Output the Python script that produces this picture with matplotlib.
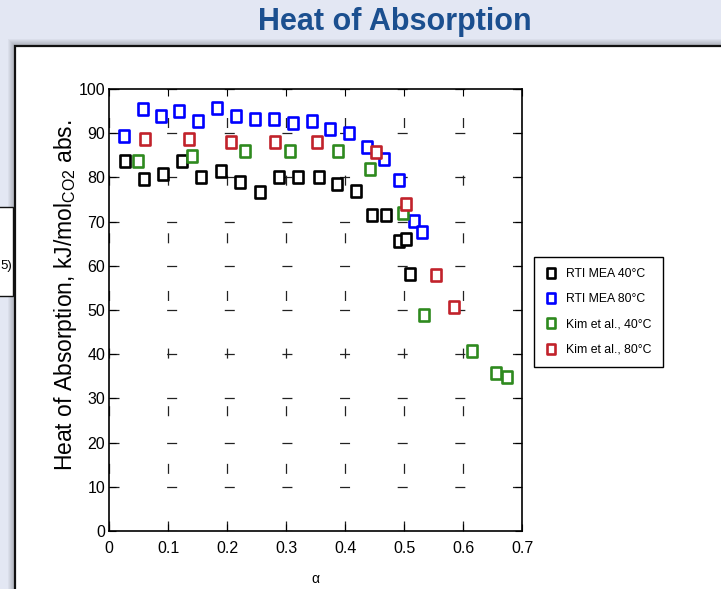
"""
Heat of absorption vs loading - slide style recreation
"""
import matplotlib
matplotlib.use("Agg")
import matplotlib.pyplot as plt
from matplotlib.path import Path
from matplotlib.patches import Rectangle

plt.rcParams['lines.scale_dashes'] = False
plt.rcParams['mathtext.fontset'] = 'custom'
plt.rcParams['mathtext.rm'] = 'Liberation Sans'

W, H = 721, 589
ARIAL = ['Liberation Sans', 'DejaVu Sans']

# values
rti40_x = [0.026, 0.059, 0.091, 0.124, 0.156, 0.189, 0.222, 0.255, 0.288,
           0.320, 0.355, 0.386, 0.418, 0.446, 0.469, 0.491, 0.503, 0.510]
rti40_y = [83.6, 79.6, 80.8, 83.7, 80.1, 81.4, 79.0, 76.6, 80.0,
           80.0, 80.2, 78.4, 77.0, 71.6, 71.4, 65.7, 66.1, 58.2]

rti80_x = [0.025, 0.057, 0.088, 0.119, 0.151, 0.183, 0.215, 0.247, 0.280,
           0.312, 0.344, 0.375, 0.407, 0.437, 0.466, 0.492, 0.516, 0.530]
rti80_y = [89.4, 95.4, 93.9, 95.0, 92.8, 95.7, 94.0, 93.1, 93.1,
           92.3, 92.8, 90.9, 90.1, 86.8, 84.2, 79.4, 70.1, 67.6]

kim40_x = [0.049, 0.140, 0.230, 0.307, 0.388, 0.443, 0.499, 0.534, 0.615, 0.656, 0.675]
kim40_y = [83.8, 84.9, 85.9, 85.9, 85.9, 81.9, 71.9, 48.9, 40.8, 35.8, 34.9]

kim80_x = [0.060, 0.136, 0.206, 0.281, 0.353, 0.453, 0.503, 0.554, 0.584]
kim80_y = [88.8, 88.8, 87.9, 87.9, 87.9, 85.8, 74.0, 57.9, 50.7]

series = [
    (rti40_x, rti40_y, 'black', 'RTI MEA 40°C'),
    (rti80_x, rti80_y, '#0000ff', 'RTI MEA 80°C'),
    (kim40_x, kim40_y, '#2e8a1e', 'Kim et al., 40°C'),
    (kim80_x, kim80_y, '#c1222b', 'Kim et al., 80°C'),
]

x_ticks = [0, 0.1, 0.2, 0.3, 0.4, 0.5, 0.6, 0.7]
x_labels = ['0', '0.1', '0.2', '0.3', '0.4', '0.5', '0.6', '0.7']
y_ticks = list(range(0, 101, 10))


def fx(px):
    return px / W


def fy(py):
    return 1 - py / H


# tall rectangle marker, like the squashed squares in the original
rect = Path([(-0.4, -0.5), (0.4, -0.5), (0.4, 0.5), (-0.4, 0.5), (-0.4, -0.5)],
            [Path.MOVETO, Path.LINETO, Path.LINETO, Path.LINETO, Path.CLOSEPOLY])

fig = plt.figure(figsize=(W / 100, H / 100), dpi=100)
fig.patch.set_facecolor('#e3e7f3')

# slide decorations
for i in range(1, 8):
    fig.add_artist(Rectangle((fx(15 - i), -0.01), 1.1, fy(46 - i) + 0.01,
                             facecolor='#000000', alpha=0.035, edgecolor='none',
                             transform=fig.transFigure, zorder=-5))
fig.add_artist(Rectangle((fx(15), -0.01), 1.1, fy(46) + 0.01, facecolor='white',
                         edgecolor='#111111', linewidth=1.6,
                         transform=fig.transFigure, zorder=-4))
fig.add_artist(Rectangle((fx(-3), fy(296)), fx(16), fy(207) - fy(296),
                         facecolor='white', edgecolor='#111111', linewidth=1.0,
                         transform=fig.transFigure, zorder=-3))
fig.text(fx(12), fy(266), '5)', ha='right', va='center', fontsize=9.5, family=ARIAL)

fig.text(fx(395), fy(22), 'Heat of Absorption', ha='center', va='center',
         fontsize=22, fontweight='bold', color='#1b4f8f', family=ARIAL)

# main axes
ax = fig.add_axes([fx(109.3), fy(531), fx(522) - fx(109.3), fy(89) - fy(531)])

for xs, ys, color, label in series:
    ax.plot(xs, ys, linestyle='none', marker=rect, markersize=8.3,
            markeredgewidth=1.9, markeredgecolor=color, markerfacecolor='white',
            label=label, zorder=3)

ax.set_xlim(0, 0.7)
ax.set_ylim(0, 100)
ax.set_xticks(x_ticks)
ax.set_xticklabels(x_labels)
ax.set_yticks(y_ticks)

for lab in ax.get_xticklabels() + ax.get_yticklabels():
    lab.set_family(ARIAL)
    lab.set_fontsize(11.5)

ax.tick_params(direction='in', length=5, width=0.8, top=True, right=True,
               color='black')
ax.tick_params(axis='y', pad=3)
ax.tick_params(axis='x', pad=7)

# MATLAB-looking sparse grid
ax.grid(True, color='#222222', linewidth=0.9, linestyle=(0, (7.2, 34.3)))
for sp in ax.spines.values():
    sp.set_linewidth(1.2)

ax.set_xlabel('α', fontsize=10, family=ARIAL)
ax.xaxis.set_label_coords(0.5, -0.093)
ax.set_ylabel(r'Heat of Absorption, kJ/mol$_{\mathrm{CO2}}$ abs.', fontsize=16.5,
              family=ARIAL, va='center')
ax.yaxis.set_label_coords(-0.105, 0.534)

leg = ax.legend(loc='upper left', bbox_to_anchor=(fx(534), fy(257)),
                bbox_transform=fig.transFigure, borderaxespad=0, fancybox=False,
                framealpha=1, edgecolor='black', numpoints=1, handlelength=1.0,
                handletextpad=0.7, labelspacing=1.08, markerscale=0.8,
                borderpad=0.92, prop={'family': ARIAL, 'size': 8.8})
leg.get_frame().set_linewidth(1.0)

fig.savefig('out.png', dpi=100)
